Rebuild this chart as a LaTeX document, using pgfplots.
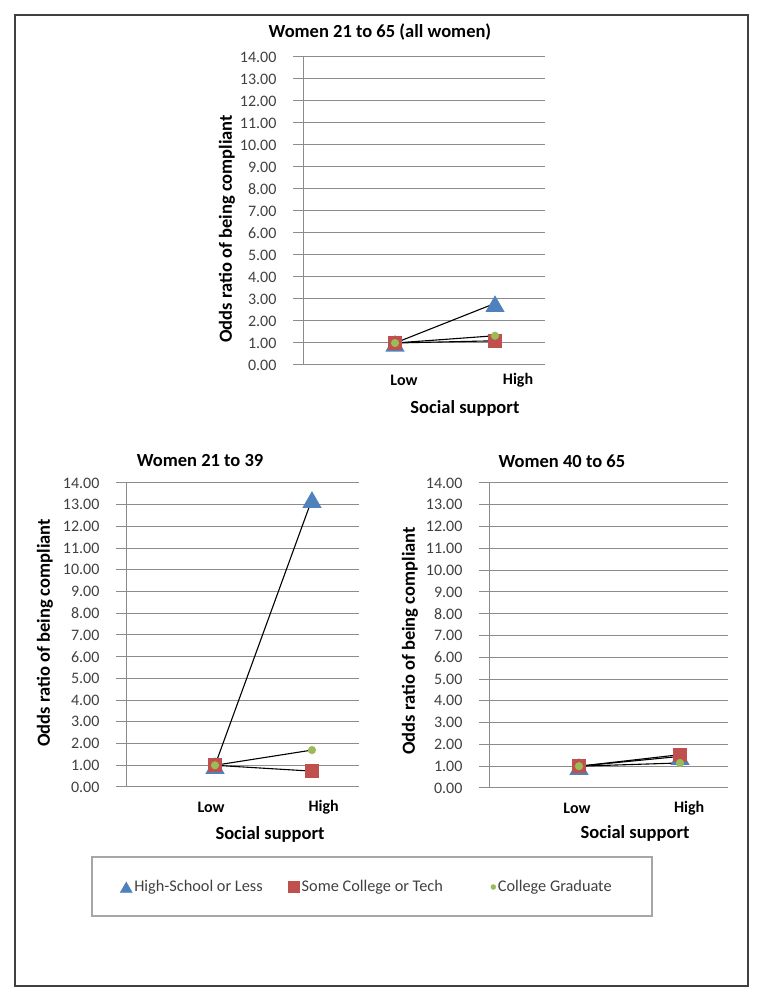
\documentclass[border=0pt]{standalone}
\usepackage{pgfplots}
\pgfplotsset{compat=1.18}
\usepackage{fontspec}
\setmainfont{Carlito}
\definecolor{tri}{HTML}{4F81BD}
\definecolor{sq}{HTML}{C0504D}
\definecolor{dot}{HTML}{9BBB59}
\definecolor{gridc}{HTML}{8C8C8C}
\definecolor{txt}{HTML}{404040}
\pgfplotsset{
  panel/.style={
    scale only axis,
    axis y line*=left, axis x line*=bottom,
    axis line style={gridc, line width=1pt},
    ymin=0, ymax=14, ytick={0,1,...,14},
    ymajorgrids, major grid style={gridc, line width=1pt},
    yticklabel={\pgfmathprintnumber[fixed,fixed zerofill,precision=2]{\tick}},
    /pgf/number format/assume math mode=true,
    y tick label style={font=\fontsize{16}{16}\selectfont, text=txt, xshift=-13pt},
    tick align=outside, major tick length=10pt,
    ytick style={gridc, line width=1pt},
    xtick style={draw=none},
    xticklabels={Low,High},
    x tick label style={font=\bfseries\fontsize{16}{16}\selectfont, anchor=center},
    title style={font=\bfseries\fontsize{18.5}{20}\selectfont, anchor=center},
    label style={font=\bfseries\fontsize{18.5}{20}\selectfont},
    ylabel={Odds ratio of being compliant},
    xlabel={Social support},
    clip=false,
  },
  trip/.style={black, line width=1.1pt, mark=triangle*, mark size=10pt, mark options={tri, solid, yshift=-3pt}, forget plot},
  sqp/.style={black, line width=1.1pt, mark=square*, mark size=6.5pt, mark options={sq, solid}, forget plot},
  dotp/.style={black, line width=1.1pt, mark=*, mark size=3.5pt, mark options={dot, solid}, forget plot},
}
\begin{document}
\begin{tikzpicture}[x=1pt,y=1pt]
\path (0,0) rectangle (762,1002);
\draw[color=txt, line width=1.2pt] (15,16) rectangle (748,987);
\draw[color=gray!70, line width=1.1pt] (92,86) rectangle (652,145);

% Top panel
\begin{axis}[panel, at={(303pt,637pt)}, anchor=south west, width=242pt, height=308pt,
  xmin=0.08, xmax=2.5, xtick={1.09,2.23},
  x tick label style={yshift=-5pt},
  title={Women 21 to 65 (all women)}, title style={at={(axis description cs:0.318,1.062)}},
  ylabel style={at={(axis description cs:-0.314,0.442)}, anchor=center},
  xlabel style={at={(axis description cs:0.669,-0.140)}, anchor=center},
]
\addplot[trip] coordinates {(1,1) (2,2.8)};
\addplot[sqp] coordinates {(1,1) (2,1.1)};
\addplot[dotp] coordinates {(1,1) (2,1.33)};
\end{axis}

% Bottom left panel
\begin{axis}[panel, at={(126pt,215pt)}, anchor=south west, width=233pt, height=304pt,
  xmin=0.082, xmax=2.485, xtick={0.96,2.12},
  x tick label style={yshift=-10pt},
  title={Women 21 to 39}, title style={at={(axis description cs:0.318,1.053)}},
  ylabel style={at={(axis description cs:-0.348,0.507)}, anchor=center},
  xlabel style={at={(axis description cs:0.618,-0.155)}, anchor=center},
  legend style={at={(axis description cs:1.034,-0.329)}, anchor=center, draw=none, fill=none,
    legend columns=3, font=\fontsize{16.3}{17}\selectfont, text=txt,
    /tikz/column 2/.style={column sep=24pt},
    /tikz/column 4/.style={column sep=46pt}},
  legend image code/.code={\draw[mark repeat=2,mark phase=2,#1] plot coordinates {(0pt,0pt) (6pt,0pt) (12pt,0pt)};},
]
\addplot[trip] coordinates {(1,1) (2,13.25)};
\addplot[sqp] coordinates {(1,1) (2,0.73)};
\addplot[dotp] coordinates {(1,1) (2,1.7)};
\addlegendimage{only marks, mark=triangle*, mark size=7pt, mark options={tri, yshift=-2pt}}
\addlegendentry{High-School or Less}
\addlegendimage{only marks, mark=square*, mark size=5.5pt, mark options={sq}}
\addlegendentry{Some College or Tech}
\addlegendimage{only marks, mark=*, mark size=2.5pt, mark options={dot, xshift=-10pt}}
\addlegendentry{College Graduate}
\end{axis}

% Bottom right panel
\begin{axis}[panel, at={(489pt,214pt)}, anchor=south west, width=239pt, height=305pt,
  xmin=0.109, xmax=2.475, xtick={0.98,2.09},
  x tick label style={yshift=-10pt},
  title={Women 40 to 65}, title style={at={(axis description cs:0.305,1.052)}},
  ylabel style={at={(axis description cs:-0.331,0.482)}, anchor=center},
  xlabel style={at={(axis description cs:0.611,-0.148)}, anchor=center},
]
\addplot[trip] coordinates {(1,1) (2,1.45)};
\addplot[sqp] coordinates {(1,1) (2,1.53)};
\addplot[dotp] coordinates {(1,1) (2,1.15)};
\end{axis}
\end{tikzpicture}
\end{document}
